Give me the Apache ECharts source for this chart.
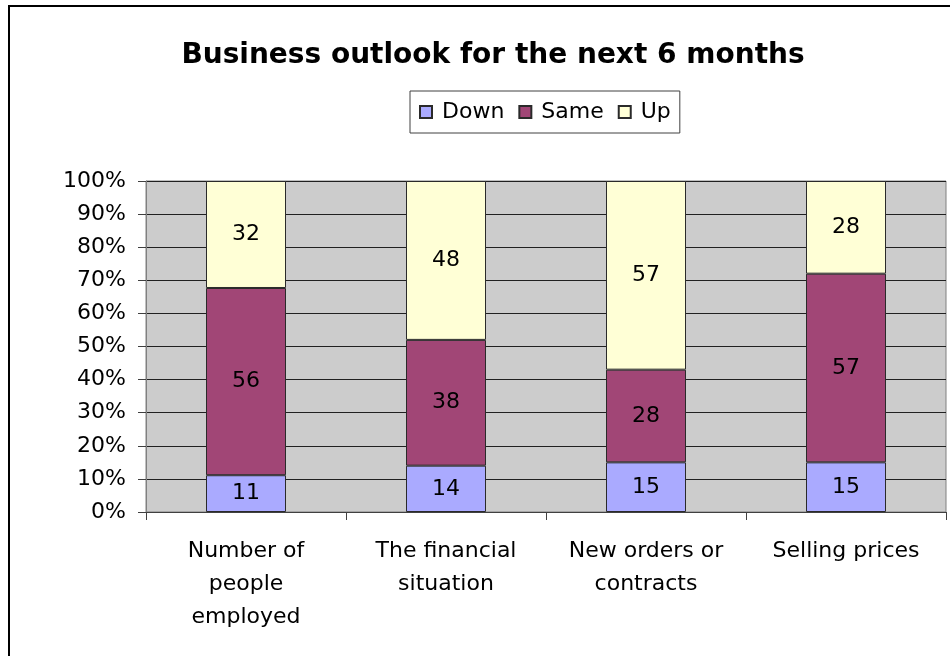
<!DOCTYPE html>
<html>
<head>
<meta charset="utf-8">
<script src="https://cdn.jsdelivr.net/npm/echarts@6/dist/echarts.min.js"></script>
<style>
  html, body { margin: 0; padding: 0; background: #fff; }
  #chart { width: 950px; height: 656px; }
</style>
</head>
<body>
<div id="chart"></div>
<script>
// Survey answers: share of firms expecting each direction
const categories = ['Number of\npeople\nemployed', 'The financial\nsituation', 'New orders or\ncontracts', 'Selling prices'];
const down = [11, 14, 15, 15];
const same = [56, 38, 28, 57];
const up = [32, 48, 57, 28];
const yTicks = ['0%', '10%', '20%', '30%', '40%', '50%', '60%', '70%', '80%', '90%', '100%'];

// 100% stacking: each column is scaled by its own total
const totals = categories.map((_, i) => down[i] + same[i] + up[i]);
const pct = arr => arr.map((v, i) => v / totals[i] * 100);

const FONT = 'DejaVu Sans';
const chart = echarts.init(document.getElementById('chart'), null, { renderer: 'canvas' });

function seriesFor(name, raw, color) {
  return {
    name: name,
    type: 'bar',
    stack: 'total',
    data: pct(raw),
    barWidth: '40%',
    itemStyle: { color: color, borderColor: '#2a2a2a', borderWidth: 1 },
    label: {
      show: true,
      position: 'inside',
      fontFamily: FONT,
      fontSize: 22,
      color: '#000',
      formatter: p => String(raw[p.dataIndex])
    }
  };
}

chart.setOption({
  animation: false,
  backgroundColor: '#fff',
  graphic: [{
    type: 'rect',
    shape: { x: 9, y: 6, width: 980, height: 720 },
    style: { fill: 'none', stroke: '#000', lineWidth: 2 },
    silent: true
  }],
  title: {
    text: 'Business outlook for the next 6 months',
    left: 488,
    textAlign: 'center',
    top: 37,
    textStyle: { fontFamily: FONT, fontWeight: 'bold', fontSize: 28, color: '#000' }
  },
  legend: {
    left: 410,
    top: 91,
    padding: [10, 9, 10, 9],
    borderColor: '#404040',
    borderWidth: 1,
    itemWidth: 12,
    itemHeight: 12,
    itemGap: 14,
    icon: 'rect',
    textStyle: { fontFamily: FONT, fontSize: 22, color: '#000', padding: [0, 0, 0, 5] },
    data: ['Down', 'Same', 'Up']
  },
  grid: {
    left: 146,
    right: 4,
    top: 181,
    bottom: 144,
    show: true,
    backgroundColor: '#CCCCCC',
    borderColor: '#808080',
    borderWidth: 1
  },
  xAxis: {
    type: 'category',
    data: categories,
    axisLine: { show: true, lineStyle: { color: '#404040' } },
    axisTick: { show: true, alignWithLabel: false, length: 8, lineStyle: { color: '#404040' } },
    axisLabel: { fontFamily: FONT, fontSize: 22, color: '#000', margin: 23, lineHeight: 33, interval: 0 }
  },
  yAxis: {
    type: 'value',
    min: 0,
    max: 100,
    interval: 10,
    axisLine: { show: true, lineStyle: { color: '#808080' } },
    axisTick: { show: true, length: 8, lineStyle: { color: '#404040' } },
    splitLine: { show: true, lineStyle: { color: '#202020', width: 1 } },
    axisLabel: {
      fontFamily: FONT, fontSize: 22, color: '#000', margin: 20,
      formatter: v => yTicks[Math.round(v / 10)]
    }
  },
  series: [
    seriesFor('Down', down, '#AAAAFF'),
    seriesFor('Same', same, '#A14676'),
    seriesFor('Up', up, '#FFFFD6')
  ]
});
</script>
</body>
</html>
